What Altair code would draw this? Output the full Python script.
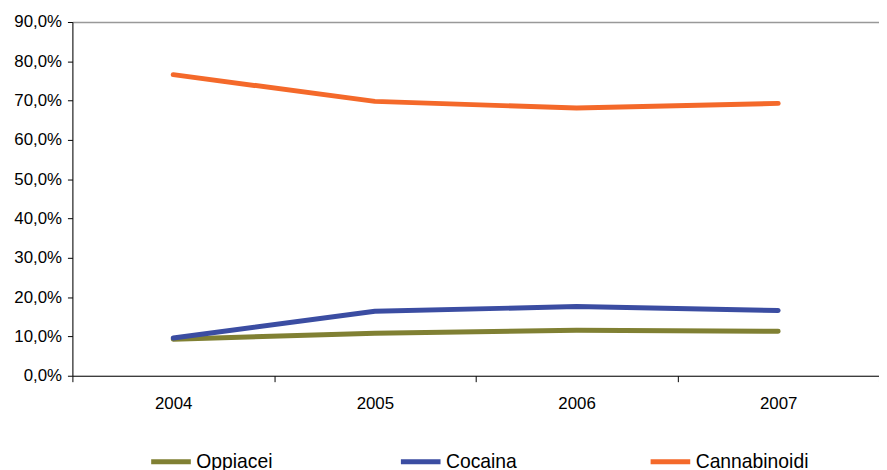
import altair as alt
import pandas as pd

years = ["2004", "2005", "2006", "2007"]
series_names = ["Oppiacei", "Cocaina", "Cannabinoidi"]
oppiacei = [9.3, 10.8, 11.6, 11.3]
cocaina = [9.6, 16.4, 17.6, 16.6]
cannabinoidi = [76.6, 69.8, 68.1, 69.3]
colors = ["#808033", "#3B4DA2", "#F4692A"]
y_ticks = [0, 10, 20, 30, 40, 50, 60, 70, 80, 90]

rows = []
for name, vals in zip(series_names, [oppiacei, cocaina, cannabinoidi]):
    for yr, v in zip(years, vals):
        rows.append({"Anno": yr, "Serie": name, "Valore": v})
df = pd.DataFrame(rows)

FONT = "Liberation Sans"

x = alt.X(
    "Anno:N",
    sort=years,
    scale=alt.Scale(paddingInner=0, paddingOuter=0),
    axis=alt.Axis(
        title=None,
        labelAngle=0,
        tickBand="extent",
        tickSize=6,
        labelPadding=14,
        labelFontSize=17,
        labelFont=FONT,
        labelColor="#000000",
        domainColor="#000000",
        tickColor="#000000",
        grid=False,
    ),
)
y = alt.Y(
    "Valore:Q",
    scale=alt.Scale(domain=[0, 90], nice=False),
    axis=alt.Axis(
        title=None,
        values=y_ticks,
        labelExpr="replace(format(datum.value, '.1f'), '.', ',') + '%'",
        labelOverlap=False,
        labelFlush=False,
        tickSize=5,
        labelPadding=6,
        labelFontSize=17,
        labelFont=FONT,
        labelColor="#000000",
        domainColor="#000000",
        tickColor="#000000",
        grid=True,
        gridWidth=1.5,
        gridColor={"condition": {"test": "datum.value === 90", "value": "#999999"}, "value": "transparent"},
    ),
)

chart = alt.Chart(df).mark_line(strokeWidth=5, strokeCap="round", strokeJoin="round").encode(
    x=x,
    y=y,
    color=alt.Color(
        "Serie:N",
        sort=series_names,
        scale=alt.Scale(domain=series_names, range=colors),
        legend=alt.Legend(
            title=None,
            orient="none",
            legendX=77,
            legendY=421,
            direction="horizontal",
            columns=3,
            gridAlign="all",
            columnPadding=82,
            symbolType="stroke",
            symbolSize=1600,
            symbolStrokeWidth=5,
            labelFontSize=19.5,
            labelFont=FONT,
            labelColor="#000000",
            labelOffset=3,
            labelLimit=300,
        ),
    ),
).properties(
    width=814,
    height=357,
    padding={"left": 65, "top": 12, "right": 0, "bottom": 93},
    autosize="none",
).configure_view(stroke=None).configure(background="white")

chart.save("out.html", embed_options={"renderer": "svg", "actions": False})
